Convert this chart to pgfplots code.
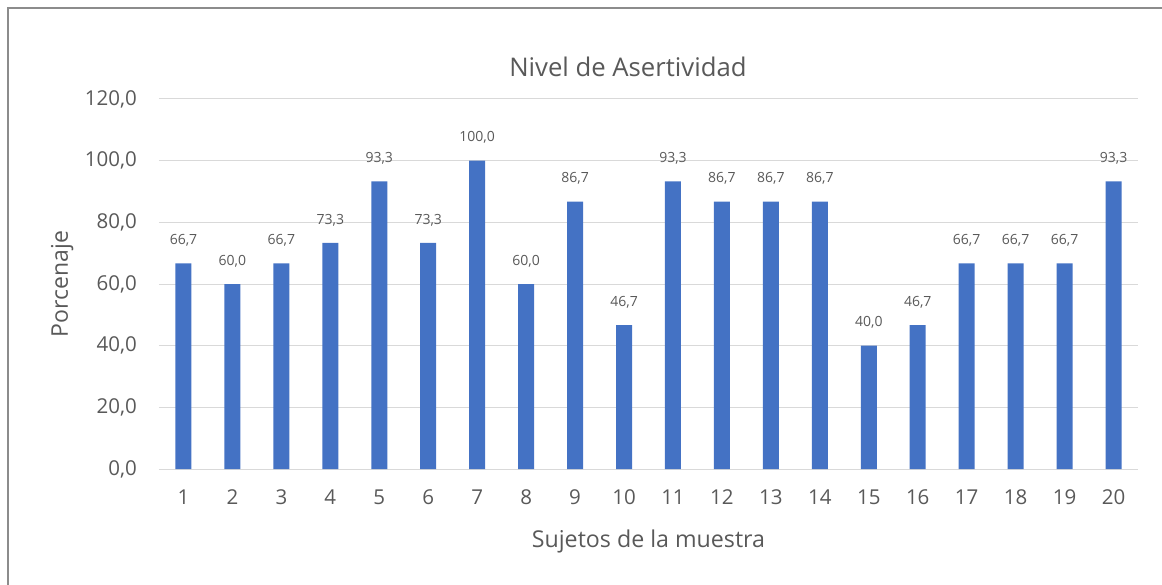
\documentclass[border=0pt]{standalone}
\usepackage{pgfplots}
\pgfplotsset{compat=1.18}
\usepackage{fontspec}
\setmainfont{Open Sans}
\definecolor{txt}{HTML}{595959}
\definecolor{grd}{HTML}{D9D9D9}
\definecolor{bar}{HTML}{4472C4}
\definecolor{frm}{HTML}{8C8C8C}
\begin{document}
\begin{tikzpicture}[x=1pt,y=1pt]
\useasboundingbox (-159,-115) rectangle (1003,469);
\draw[frm, line width=2pt] (-151,-130) -- (-151,461) -- (1020,461);
\begin{axis}[
  at={(0,0)}, anchor=south west,
  scale only axis, width=979pt, height=370pt,
  xmin=0.5, xmax=20.5, ymin=0, ymax=120,
  ytick={0,20,...,120}, xtick={1,...,20},
  ymajorgrids, grid style={grd, line width=1pt},
  axis line style={draw=none},
  major tick length=0pt,
  ybar, bar width=16pt,
  /pgf/number format/assume math mode=true,
  y tick label style={font=\fontsize{20.5}{24}\selectfont, text=txt, anchor=east, inner sep=0pt, xshift=-22pt,
    /pgf/number format/.cd, fixed, fixed zerofill, precision=1, use comma},
  x tick label style={font=\fontsize{20.5}{24}\selectfont, text=txt, anchor=center, inner sep=0pt, yshift=-28pt},
  title={Nivel de Asertividad},
  title style={font=\fontsize{25.7}{30}\selectfont, text=txt, at={(axis description cs:0.479,1.07)}, anchor=center},
  xlabel={Sujetos de la muestra},
  ylabel={Porcenaje},
  every axis x label/.style={font=\fontsize{23.2}{27}\selectfont, text=txt, at={(axis description cs:0.5,-0.195)}, anchor=center},
  every axis y label/.style={font=\fontsize{23}{27}\selectfont, text=txt, at={(axis description cs:-0.099,0.5)}, anchor=center, rotate=90},
  nodes near coords,
  nodes near coords style={font=\fontsize{14}{16}\selectfont, text=txt, anchor=center, inner sep=0pt, yshift=23pt,
    /pgf/number format/.cd, fixed, fixed zerofill, precision=1, use comma, assume math mode=true},
]
\addplot[fill=bar, draw=none] coordinates {
(1,66.7) (2,60.0) (3,66.7) (4,73.3) (5,93.3) (6,73.3) (7,100.0) (8,60.0) (9,86.7) (10,46.7)
(11,93.3) (12,86.7) (13,86.7) (14,86.7) (15,40.0) (16,46.7) (17,66.7) (18,66.7) (19,66.7) (20,93.3)
};
\end{axis}
\end{tikzpicture}
\end{document}
